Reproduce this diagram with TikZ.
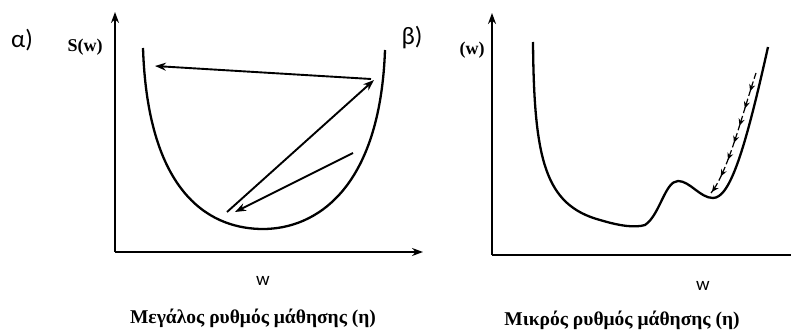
\documentclass[tikz,border=0pt]{standalone}
\usepackage{fontspec}
\setmainfont{Liberation Serif}
\newfontfamily\calib{Carlito}
\usetikzlibrary{arrows.meta,decorations.markings}

\begin{document}
\begin{tikzpicture}[x=1pt, y=-1pt, >={Stealth[length=11pt,width=8pt]},
    every node/.style={inner sep=0pt},
    axis/.style={->, line width=2pt},
    curve/.style={line width=2.3pt},
    jump/.style={->, line width=1.9pt},
    panel/.style={font=\calib\fontsize{25}{25}\selectfont},
    ylab/.style={font=\bfseries\fontsize{18}{18}\selectfont},
    wlab/.style={font=\calib\fontsize{19}{19}\selectfont},
    caption/.style={font=\bfseries\fontsize{19.5}{19.5}\selectfont}]
    \useasboundingbox (0,0) rectangle (791,331);

    % left panel
    \node[panel] (pa) at (22,40) {α)};
    \coordinate (lo) at (115,252);
    \coordinate (ly) at (115,12);
    \coordinate (lx) at (423,252);
    \draw[axis] (lo) -- (ly);
    \draw[axis] (lo) -- (lx);
    \node[ylab] (ls) at (85,47) {S(w)};
    \node[wlab] (lw) at (263,281) {w};
    \node[caption] (lc) at (253,318) {Μεγάλος ρυθμός μάθησης (η)};

    \draw[curve] (143,48) .. controls (148,200) and (215,229) .. (263,229)
        .. controls (315,229) and (380,190) .. (385,50);

    \coordinate (j1) at (353,153);
    \coordinate (j2) at (235,212);
    \coordinate (j3) at (227,212);
    \coordinate (j4) at (374,80);
    \coordinate (j5) at (371,79);
    \coordinate (j6) at (155,66);
    \draw[jump] (j1) -- (j2);
    \draw[jump] (j3) -- (j4);
    \draw[jump] (j5) -- (j6);

    % right panel
    \node[panel] (pb) at (412,38) {β)};
    \coordinate (ro) at (492,255);
    \coordinate (ry) at (492,13);
    \coordinate (rx) at (791,255);
    \draw[axis] (ro) -- (ry);
    \draw[line width=2pt] (ro) -- (rx);
    \node[ylab] (rs) at (472,50) {(w)};
    \node[wlab] (rw) at (703,286) {w};
    \node[caption] (rc) at (622,320) {Μικρός ρυθμός μάθησης (η)};

    \draw[curve] (533,42) .. controls (534,160) and (545,205) .. (600,220)
        .. controls (620,226) and (635,228) .. (645,225)
        .. controls (660,215) and (665,181) .. (678,181)
        .. controls (690,181) and (700,198) .. (713,198)
        .. controls (730,198) and (745,150) .. (768,47);

    \coordinate (s1) at (756,73);
    \coordinate (s2) at (711,193);
    \draw[line width=1.2pt, dash pattern=on 6pt off 3pt,
        postaction={decorate, decoration={markings,
        mark=between positions 0.15 and 0.99 step 0.14 with {\arrow{Stealth[length=7pt,width=6pt]}}}}]
        (s1) .. controls (742,115) and (728,172) .. (s2);
\end{tikzpicture}
\end{document}
